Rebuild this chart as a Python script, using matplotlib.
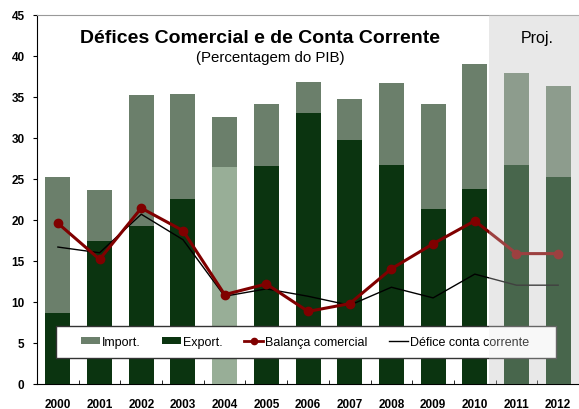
import matplotlib
matplotlib.use("Agg")
import matplotlib.pyplot as plt
from matplotlib.patches import Patch, Rectangle
from matplotlib.lines import Line2D
import numpy as np

plt.rcParams['font.family'] = ['Liberation Sans', 'DejaVu Sans']

years = ['2000', '2001', '2002', '2003', '2004', '2005', '2006', '2007', '2008', '2009', '2010', '2011', '2012']
imports = [25.2, 23.7, 35.2, 35.4, 32.5, 34.2, 36.8, 34.7, 36.7, 34.1, 39.0, 37.9, 36.4]
exports = [8.7, 17.4, 19.3, 22.5, 26.45, 26.6, 33.1, 29.7, 26.7, 21.4, 23.8, 26.7, 25.2]
balanca = [19.6, 15.2, 21.45, 18.7, 10.9, 12.2, 8.85, 9.8, 14.05, 17.1, 19.9, 15.9, 15.9]
defice = [16.7, 16.0, 20.7, 17.6, 10.7, 11.6, 10.7, 9.6, 11.8, 10.5, 13.4, 12.05, 12.05]
yticks = [0, 5, 10, 15, 20, 25, 30, 35, 40, 45]

imp_color = '#6b7f6b'
exp_color = '#0b3410'
exp_2004 = '#98ae97'
red = '#800000'

fig = plt.figure(figsize=(5.79, 4.10), dpi=100)
ax = fig.add_axes([0.064, 0.061, 0.936, 0.900])

x = np.arange(len(years))
w = 0.6
ax.axvspan(10.35, 12.6, color='#e8e8e8', zorder=0, lw=0)
ax.bar(x, imports, width=w, color=imp_color, zorder=2)
exp_cols = [exp_2004 if y == '2004' else exp_color for y in years]
ax.bar(x, exports, width=w, color=exp_cols, zorder=3)
ax.plot(x, defice, color='black', lw=1.0, zorder=4)
ax.plot(x, balanca, color=red, lw=2.2, marker='o', ms=6, zorder=5)

# legend box
box = Rectangle((0.035, 0.0705), 0.9225, 0.0865, transform=ax.transAxes,
                facecolor='white', edgecolor='#333333', lw=1.0, zorder=6)
ax.add_patch(box)
handles = [Patch(facecolor=imp_color, label='Import.'),
           Patch(facecolor=exp_color, label='Export.'),
           Line2D([], [], color=red, lw=2.0, marker='o', ms=4.5, label='Balança comercial'),
           Line2D([], [], color='black', lw=1.0, label='Défice conta corrente')]
leg = ax.legend(handles=handles, ncol=4, loc='center left',
                bbox_to_anchor=(0.081, 0.114), fontsize=9, frameon=False,
                handlelength=1.5, handleheight=0.55, handletextpad=0.15,
                borderaxespad=0, borderpad=0, columnspacing=1.75)
leg.set_zorder(6.5)

ax.axvspan(10.35, 12.6, color='#e8e8e8', alpha=0.28, zorder=7, lw=0)

ax.set_xlim(-0.5, 12.5)
ax.set_ylim(0, 45)
ax.set_yticks(yticks)
ax.set_yticklabels([str(v) for v in yticks], fontweight='bold', fontsize=8.5)
ax.set_xticks(x)
ax.set_xticklabels(years, fontweight='bold', fontsize=8.5)
ax.tick_params(axis='x', length=0, pad=10)
ax.set_xticks(np.arange(-0.5, 12.6, 1), minor=True)
ax.tick_params(axis='x', which='minor', direction='in', length=3)
ax.tick_params(axis='y', direction='out', length=3, pad=6)

ax.spines['right'].set_visible(False)
ax.spines['top'].set_color('#999999')
ax.spines['left'].set_color('black')
ax.spines['bottom'].set_color('black')

ax.text(0.411, 0.940, 'Défices Comercial e de Conta Corrente', transform=ax.transAxes,
        ha='center', va='center', fontsize=14, fontweight='bold', zorder=8)
ax.text(0.43, 0.886, '(Percentagem do PIB)', transform=ax.transAxes,
        ha='center', va='center', fontsize=10.8, zorder=8)
ax.text(11.5, 42.3, 'Proj.', ha='center', va='center', fontsize=11.5, zorder=8)

fig.savefig('out.png', dpi=100)
